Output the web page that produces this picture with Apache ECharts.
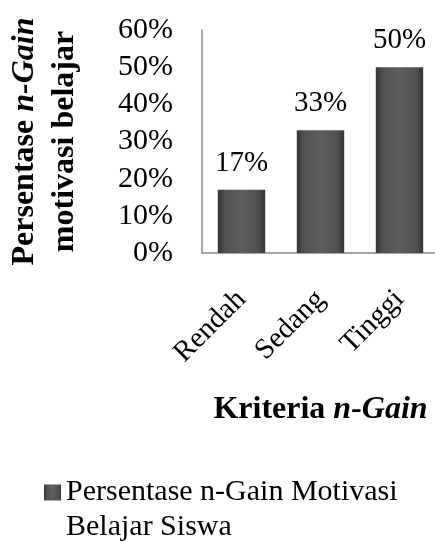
<!DOCTYPE html>
<html><head><meta charset="utf-8">
<script src="https://cdn.jsdelivr.net/npm/echarts@6/dist/echarts.min.js"></script>
<style>html,body{margin:0;padding:0;background:#fff}#c{width:435px;height:541px}</style>
</head><body><div id="c"></div>
<script>
const categories = ['Rendah', 'Sedang', 'Tinggi'];
const values = [17, 33, 50];
const yTicks = [0, 10, 20, 30, 40, 50, 60];
const seriesName = 'Persentase n-Gain Motivasi Belajar Siswa';
const F = 'Liberation Serif, Times New Roman, serif';

const chart = echarts.init(document.getElementById('c'));
chart.setOption({
  animation: false,
  textStyle: { fontFamily: F },
  grid: { left: 202, top: 30, width: 237, height: 223, containLabel: false, outerBoundsMode: 'none' },
  legend: {
    left: 44, top: 440, padding: 0,
    itemWidth: 17, itemHeight: 16, itemGap: 0,
    icon: 'rect',
    formatter: () => '\nPersentase n-Gain Motivasi\nBelajar Siswa',
    textStyle: { fontFamily: F, fontSize: 30, color: '#000', lineHeight: 35 }
  },
  xAxis: {
    type: 'category',
    data: categories,
    axisLine: { lineStyle: { color: '#888', width: 1.5 } },
    axisTick: { show: false },
    axisLabel: { rotate: 45, fontSize: 29, color: '#000', fontFamily: F, margin: 42 },
    name: '{b|Kriteria }{bi|n-Gain}',
    nameLocation: 'middle',
    nameGap: 141,
    nameTextStyle: {
      rich: {
        b: { fontFamily: F, fontSize: 32, fontWeight: 'bold', color: '#000' },
        bi: { fontFamily: F, fontSize: 32, fontWeight: 'bold', fontStyle: 'italic', color: '#000' }
      }
    }
  },
  yAxis: {
    type: 'value',
    min: yTicks[0], max: yTicks[yTicks.length - 1], interval: 10,
    axisLine: { show: true, lineStyle: { color: '#888', width: 1.5 } },
    axisTick: { show: false },
    splitLine: { show: false },
    axisLabel: { formatter: '{value}%', fontSize: 30, color: '#000', fontFamily: F, margin: 29 },
    name: '{b|Persentase }{bi|n-Gain}\n{b|motivasi belajar}',
    nameLocation: 'middle',
    nameRotate: 90,
    nameGap: 117,
    nameTextStyle: {
      lineHeight: 40,
      rich: {
        b: { fontFamily: F, fontSize: 32, fontWeight: 'bold', color: '#000', lineHeight: 40 },
        bi: { fontFamily: F, fontSize: 32, fontWeight: 'bold', fontStyle: 'italic', color: '#000', lineHeight: 40 }
      }
    }
  },
  series: [{
    name: seriesName,
    type: 'bar',
    data: values,
    barWidth: '60%',
    itemStyle: {
      color: new echarts.graphic.LinearGradient(0, 0, 1, 0, [
        { offset: 0, color: '#333' },
        { offset: 0.15, color: '#515151' },
        { offset: 0.5, color: '#5e5e5e' },
        { offset: 0.85, color: '#515151' },
        { offset: 1, color: '#333' }
      ])
    },
    label: {
      show: true, position: 'top', distance: 12,
      formatter: '{c}%', fontSize: 29, color: '#000', fontFamily: F
    }
  }]
});
</script></body></html>
